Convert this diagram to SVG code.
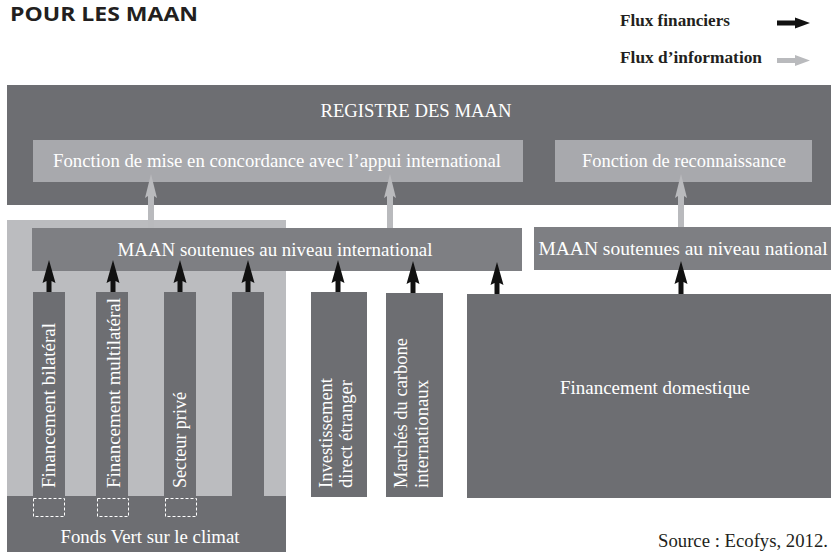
<svg xmlns="http://www.w3.org/2000/svg" width="831" height="552" viewBox="0 0 831 552">
<style>
  .dark{fill:#6d6e72}
  .mid{fill:#7e7f83}
  .light{fill:#a8a9ad}
  .bg{fill:#bbbcbf}
  .lbl{font-family:"Liberation Serif","Times New Roman",serif;font-size:19.5px;fill:#ffffff}
  .c{text-anchor:middle}
  .leg{font-family:"Liberation Serif","Times New Roman",serif;font-size:17px;font-weight:bold;fill:#231f20}
  .src{font-family:"Liberation Serif","Times New Roman",serif;font-size:19px;fill:#231f20;text-anchor:end}
  .fin{fill:#111111}
  .info{fill:#b9babd}
  .dash{fill:none;stroke:#ffffff;stroke-width:1;stroke-dasharray:3 2}
</style>
<rect width="831" height="552" fill="#ffffff"/>
<text x="10" y="21" font-family="'Open Sans','Liberation Sans',sans-serif" font-size="20" font-weight="700" fill="#231f20" textLength="188" lengthAdjust="spacingAndGlyphs">POUR LES MAAN</text>

<g id="legend">
  <text class="leg" x="620" y="26" textLength="110" lengthAdjust="spacingAndGlyphs">Flux financiers</text>
  <text class="leg" x="620" y="63" textLength="142" lengthAdjust="spacingAndGlyphs">Flux d’information</text>
  <path class="fin" d="M777,20.5 H795 V17.5 L810,23 L795,28.5 V25.5 H777 Z"/>
  <path class="info" d="M777,58 H795 V55 L810,60.5 L795,66 V63 H777 Z"/>
</g>

<g id="registre">
  <rect class="dark" x="7" y="85" width="824" height="120"/>
  <text class="lbl c" x="416" y="117" textLength="191" lengthAdjust="spacingAndGlyphs">REGISTRE DES MAAN</text>
</g>
<g id="fonction-concordance">
  <rect class="light" x="33" y="140" width="490" height="42"/>
  <text class="lbl c" x="277" y="167" textLength="448" lengthAdjust="spacingAndGlyphs">Fonction de mise en concordance avec l’appui international</text>
</g>
<g id="fonction-reconnaissance">
  <rect class="light" x="555" y="140" width="257" height="42"/>
  <text class="lbl c" x="684" y="167" textLength="204" lengthAdjust="spacingAndGlyphs">Fonction de reconnaissance</text>
</g>

<g id="zone-internationale">
  <rect class="bg" x="7" y="220" width="279" height="300"/>
</g>
<g id="maan-international">
  <rect class="mid" x="32" y="228" width="490" height="43"/>
  <text class="lbl c" x="275" y="256" textLength="315" lengthAdjust="spacingAndGlyphs">MAAN soutenues au niveau international</text>
</g>
<g id="maan-national">
  <rect class="mid" x="534" y="227" width="297" height="43"/>
  <text class="lbl c" x="683" y="255" font-size="18.5">MAAN soutenues au niveau national</text>
</g>

<g id="financement-bilateral">
  <rect class="dark" x="33" y="292" width="32" height="205"/>
  <text class="lbl" transform="translate(55,488) rotate(-90)" textLength="165" lengthAdjust="spacingAndGlyphs">Financement bilatéral</text>
</g>
<g id="financement-multilateral">
  <rect class="dark" x="96" y="292" width="32" height="205"/>
  <text class="lbl" transform="translate(120,488) rotate(-90)" textLength="190" lengthAdjust="spacingAndGlyphs">Financement multilatéral</text>
</g>
<g id="secteur-prive">
  <rect class="dark" x="164" y="292" width="32" height="205"/>
  <text class="lbl" transform="translate(186,488) rotate(-90)" textLength="96" lengthAdjust="spacingAndGlyphs">Secteur privé</text>
</g>
<g id="colonne-4">
  <rect class="dark" x="232" y="292" width="32" height="205"/>
</g>
<g id="fonds-vert">
  <rect class="dark" x="7" y="496" width="279" height="56"/>
  <rect class="dash" x="33.5" y="498.5" width="31" height="18"/>
  <rect class="dash" x="97.5" y="498.5" width="31" height="18"/>
  <rect class="dash" x="165.5" y="498.5" width="31" height="18"/>
  <text class="lbl c" x="150" y="543" textLength="179" lengthAdjust="spacingAndGlyphs">Fonds Vert sur le climat</text>
</g>

<g id="investissement-direct">
  <rect class="dark" x="311" y="292" width="56" height="205"/>
  <text class="lbl" transform="translate(332,488) rotate(-90)" textLength="110" lengthAdjust="spacingAndGlyphs">Investissement</text>
  <text class="lbl" transform="translate(352,488) rotate(-90)" textLength="108" lengthAdjust="spacingAndGlyphs">direct étranger</text>
</g>
<g id="marches-carbone">
  <rect class="dark" x="386" y="293" width="57" height="204"/>
  <text class="lbl" transform="translate(407,488) rotate(-90)" textLength="150" lengthAdjust="spacingAndGlyphs">Marchés du carbone</text>
  <text class="lbl" transform="translate(428,488) rotate(-90)" textLength="108" lengthAdjust="spacingAndGlyphs">internationaux</text>
</g>
<g id="financement-domestique">
  <rect class="dark" x="467" y="294" width="364" height="204"/>
  <text class="lbl c" x="655" y="394" textLength="190" lengthAdjust="spacingAndGlyphs">Financement domestique</text>
</g>

<g id="connectors">
  <path class="info" d="M151,174 L157,198 L154,196 V228 H148 V196 L145,198 Z"/>
  <path class="info" d="M390,174 L396,198 L393,196 V228 H387 V196 L384,198 Z"/>
  <path class="info" d="M681,174 L687,198 L684,196 V227 H678 V196 L675,198 Z"/>
  <path class="fin" d="M49,260 L55.5,283 L51.5,281 V292 H46.5 V281 L42.5,283 Z"/>
  <path class="fin" d="M113,260 L119.5,283 L115.5,281 V292 H110.5 V281 L106.5,283 Z"/>
  <path class="fin" d="M180,260 L186.5,283 L182.5,281 V292 H177.5 V281 L173.5,283 Z"/>
  <path class="fin" d="M248,260 L254.5,283 L250.5,281 V292 H245.5 V281 L241.5,283 Z"/>
  <path class="fin" d="M338,260 L344.5,283 L340.5,281 V292 H335.5 V281 L331.5,283 Z"/>
  <path class="fin" d="M413,261 L419.5,284 L415.5,282 V293 H410.5 V282 L406.5,284 Z"/>
  <path class="fin" d="M497,262 L503.5,285 L499.5,283 V294 H494.5 V283 L490.5,285 Z"/>
  <path class="fin" d="M681,261 L687.5,284 L683.5,282 V294 H678.5 V282 L674.5,284 Z"/>
</g>

<text class="src" x="828" y="547" textLength="170" lengthAdjust="spacingAndGlyphs">Source : Ecofys, 2012.</text>
</svg>
